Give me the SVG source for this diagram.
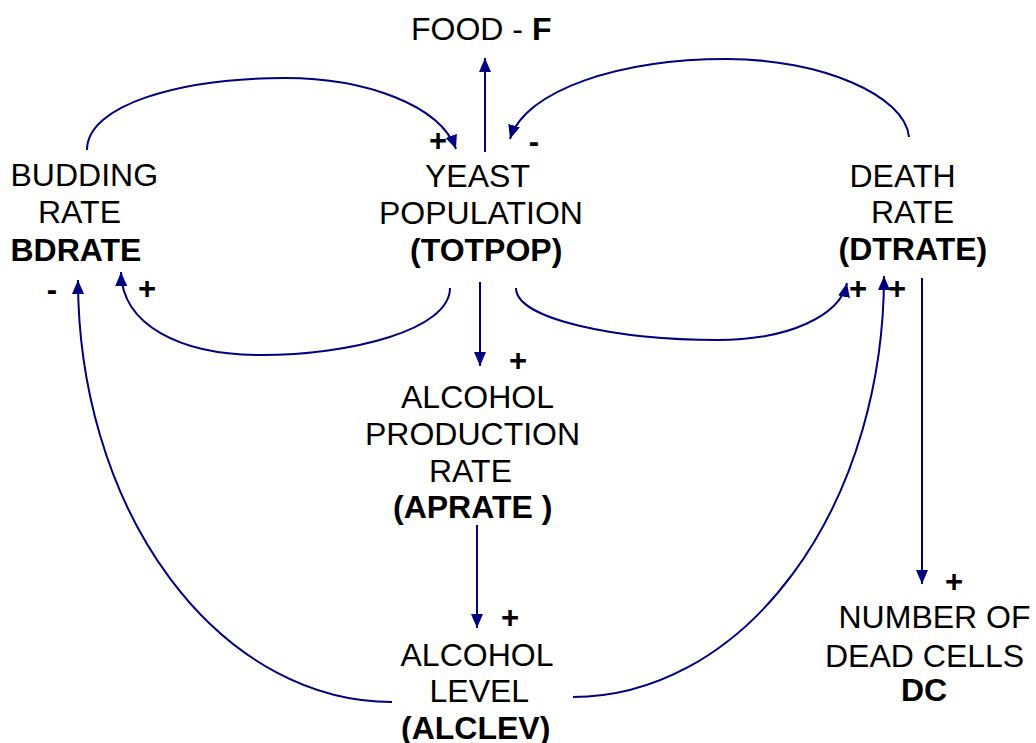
<svg xmlns="http://www.w3.org/2000/svg" width="1036" height="743" viewBox="0 0 1036 743">
  <style>
    text { font-family: "Liberation Sans", Arial, sans-serif; font-size: 32px; fill: #000; }
    .b { font-weight: bold; }
    .sign { font-weight: bold; font-size: 31px; text-anchor: middle; }
    .link { fill: none; stroke: #000080; stroke-width: 2; marker-end: url(#arrow); }
  </style>
  <defs>
    <marker id="arrow" markerUnits="userSpaceOnUse" markerWidth="15" markerHeight="13" refX="14" refY="6" orient="auto">
      <path d="M0,0 L14,6 L0,12 z" fill="#000080"/>
    </marker>
  </defs>
  <rect width="1036" height="743" fill="#fff"/>

  <!-- causal links -->
  <g id="connectors">
    <!-- BDRATE -> TOTPOP -->
    <path class="link" d="M87,150 C87,105 180,78 285,78 C365,78 440,105 456,149"/>
    <!-- TOTPOP -> F -->
    <path class="link" d="M485,152 L485,58"/>
    <!-- DTRATE -> TOTPOP -->
    <path class="link" d="M909,137 C905,95 820,59 727,59 C620,59 525,90 510,139"/>
    <!-- TOTPOP -> BDRATE -->
    <path class="link" d="M450,288 C450,330 350,355 261,355 C180,355 122,325 121,272"/>
    <!-- TOTPOP -> DTRATE -->
    <path class="link" d="M516,288 C516,320 620,340 718,340 C790,340 840,315 847,283"/>
    <!-- TOTPOP -> APRATE -->
    <path class="link" d="M480,282 L480,366"/>
    <!-- APRATE -> ALCLEV -->
    <path class="link" d="M477,525 L477,628"/>
    <!-- ALCLEV -> BDRATE -->
    <path class="link" d="M392,702 A314,422 0 0 1 78,280"/>
    <!-- ALCLEV -> DTRATE -->
    <path class="link" d="M573,697 A311,421 0 0 0 884,276"/>
    <!-- DTRATE -> DC -->
    <path class="link" d="M922,278 L922,584"/>
  </g>

  <!-- link polarities -->
  <g id="signs">
    <text class="sign" x="438" y="151">+</text>
    <text class="sign" x="534" y="152">-</text>
    <text class="sign" x="52" y="300">-</text>
    <text class="sign" x="147" y="299">+</text>
    <text class="sign" x="518" y="371">+</text>
    <text class="sign" x="858" y="299">+</text>
    <text class="sign" x="897" y="299">+</text>
    <text class="sign" x="510" y="628">+</text>
    <text class="sign" x="954" y="592">+</text>
  </g>

  <g id="food">
    <text x="411" y="40">FOOD - <tspan class="b">F</tspan></text>
  </g>

  <g id="bdrate">
    <text x="10.5" y="186">BUDDING</text>
    <text x="38" y="223">RATE</text>
    <text class="b" x="10.5" y="261">BDRATE</text>
  </g>

  <g id="totpop">
    <text x="425" y="187">YEAST</text>
    <text x="379" y="224">POPULATION</text>
    <text class="b" x="410" y="261">(TOTPOP)</text>
  </g>

  <g id="dtrate">
    <text x="849.5" y="187">DEATH</text>
    <text x="871" y="223">RATE</text>
    <text class="b" x="838.5" y="260">(DTRATE)</text>
  </g>

  <g id="aprate">
    <text x="401" y="408">ALCOHOL</text>
    <text x="365" y="445">PRODUCTION</text>
    <text x="429" y="482">RATE</text>
    <text class="b" x="393" y="518">(APRATE )</text>
  </g>

  <g id="alclev">
    <text x="400.5" y="666">ALCOHOL</text>
    <text x="429.5" y="702">LEVEL</text>
    <text class="b" x="401" y="739">(ALCLEV)</text>
  </g>

  <g id="dc">
    <text x="838.5" y="628">NUMBER OF</text>
    <text x="825" y="667">DEAD CELLS</text>
    <text class="b" x="901" y="701">DC</text>
  </g>
</svg>
